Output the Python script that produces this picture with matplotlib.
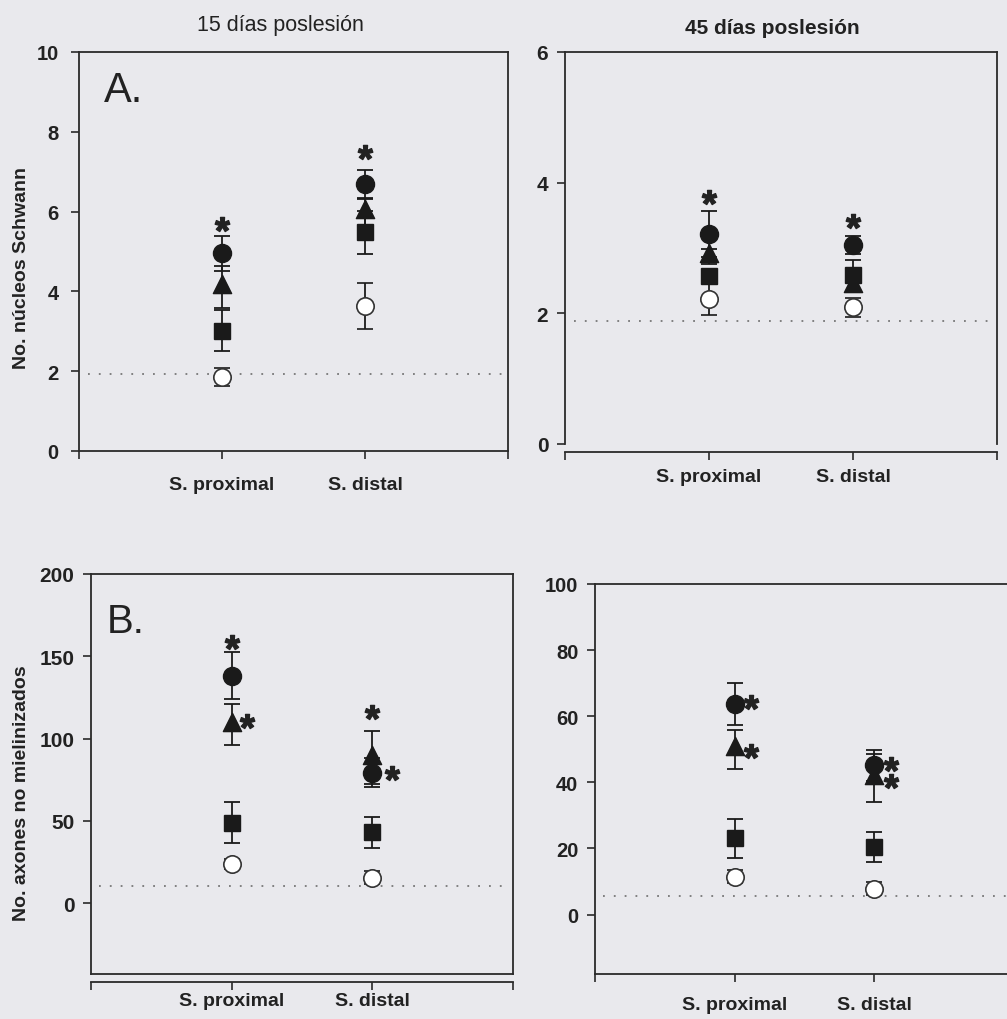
import matplotlib
matplotlib.use("Agg")
import matplotlib.pyplot as plt
from matplotlib.path import Path
import numpy as np

plt.rcParams['font.family'] = ['Liberation Sans', 'DejaVu Sans']
plt.rcParams['mathtext.fontset'] = 'custom'
plt.rcParams['mathtext.bf'] = 'Liberation Sans:bold'
plt.rcParams['mathtext.rm'] = 'Liberation Sans'

# ---------------- data ----------------
categories = ['S. proximal', 'S. distal']
cat_pos = [1, 2]

# Panel A, 15 days
a15_open = [1.86, 3.63];   a15_open_err = [0.23, 0.57]
a15_square = [3.02, 5.48]; a15_square_err = [0.52, 0.54]
a15_tri = [4.11, 5.98];    a15_tri_err = [0.53, 0.33]
a15_circle = [4.95, 6.69]; a15_circle_err = [0.44, 0.36]
a15_ref = 1.93
a15_star_x = [1.0, 2.0]; a15_star_y = [5.69, 7.49]

# Panel A, 45 days
a45_open = [2.22, 2.09];   a45_open_err = [0.24, 0.14]
a45_square = [2.57, 2.58]; a45_square_err = [0.10, 0.24]
a45_tri = [2.87, 2.42];    a45_tri_err = [0.12, 0.10]
a45_circle = [3.21, 3.05]; a45_circle_err = [0.35, 0.14]
a45_ref = 1.89
a45_star_x = [1.0, 2.0]; a45_star_y = [3.78, 3.42]

# Panel B, 15 days
b15_open = [23.7, 15.6];   b15_open_err = [3.0, 4.0]
b15_square = [49.0, 43.0]; b15_square_err = [12.7, 9.6]
b15_tri = [108.5, 88.5];   b15_tri_err = [12.5, 16.2]
b15_circle = [138.2, 79.4]; b15_circle_err = [14.2, 9.1]
b15_ref = 10.5
b15_star_x = [1.0, 1.11, 2.0, 2.14]; b15_star_y = [158.5, 110.8, 115.9, 79.4]

# Panel B, 45 days
b45_open = [11.4, 7.8];    b45_open_err = [2.0, 2.0]
b45_square = [23.0, 20.4]; b45_square_err = [5.8, 4.5]
b45_tri = [50.0, 41.3];    b45_tri_err = [5.9, 7.3]
b45_circle = [63.7, 45.1]; b45_circle_err = [6.3, 4.8]
b45_ref = 5.5
b45_star_x = [1.12, 1.12, 2.12, 2.12]; b45_star_y = [64.2, 49.6, 45.6, 40.3]

titles = ['15 días poslesión', '45 días poslesión']
ylabel_a = 'No. núcleos Schwann'
ylabel_b = 'No. axones no mielinizados'

# ---------------- style ----------------
BG = '#E9E9ED'
INK = '#1a1a1a'
W, H = 1007, 1020
fig = plt.figure(figsize=(W / 100, H / 100), dpi=100, facecolor=BG)

tri_marker = Path([(0, 1), (-0.75, -0.5), (0.75, -0.5), (0, 1)],
                  [Path.MOVETO, Path.LINETO, Path.LINETO, Path.CLOSEPOLY])


def add_axes_px(l, t, r, b):
    return fig.add_axes([l / W, 1 - b / H, (r - l) / W, (b - t) / H])


def draw_panel(ax, series, ref, star_x, star_y, ylim, yticks, bottom_offset,
               box_bottom, ypad, xpad, ysize):
    ax.set_facecolor(BG)
    ax.axhline(ref, xmin=0.02, xmax=0.985, color='#777777', lw=1.3,
               ls=(0, (1, 5)), zorder=1)
    ekw = dict(ecolor=INK, elinewidth=1.3, capsize=6, capthick=1.3, ls='none',
               zorder=3)
    vals, errs = series['open']
    ax.errorbar(cat_pos, vals, yerr=errs, marker='o', ms=12.5, mfc='white',
                mec='#333333', mew=1.2, **ekw)
    vals, errs = series['square']
    ax.errorbar(cat_pos, vals, yerr=errs, marker='s', ms=11, mfc=INK, mec=INK,
                **ekw)
    vals, errs = series['tri']
    ax.errorbar(cat_pos, vals, yerr=errs, marker=tri_marker, ms=17.5, mfc=INK,
                mec=INK, **ekw)
    vals, errs = series['circle']
    ax.errorbar(cat_pos, vals, yerr=errs, marker='o', ms=13, mfc=INK, mec=INK,
                **ekw)
    ax.plot(star_x, star_y, ls='none', marker=r'$\mathbf{*}$', ms=10.5,
            color='#222222', zorder=5)

    ax.set_xlim(0, 3)
    ax.set_ylim(*ylim)
    ax.set_yticks(yticks)
    ax.set_xticks([0, 1, 2, 3])
    ax.set_xticklabels([''] + categories + [''])
    for s in ax.spines.values():
        s.set_color('#2a2a2a')
        s.set_linewidth(1.3)
    if bottom_offset:
        ax.spines['bottom'].set_position(('outward', bottom_offset))
    if box_bottom:
        ax.plot([0, 1], [0, 0], transform=ax.transAxes, color='#2a2a2a',
                lw=1.3, clip_on=False, zorder=6)
    ax.tick_params(axis='y', direction='out', length=6, width=1.2,
                   labelsize=ysize, pad=ypad, colors='#2a2a2a', labelcolor='#222222')
    ax.tick_params(axis='x', direction='out', length=6, width=1.2,
                   labelsize=14, pad=xpad, colors='#2a2a2a', labelcolor='#222222')
    for lab in ax.get_xticklabels() + ax.get_yticklabels():
        lab.set_fontweight('bold')


axA15 = add_axes_px(79, 53, 508, 452)
draw_panel(axA15,
           {'open': (a15_open, a15_open_err), 'square': (a15_square, a15_square_err),
            'tri': (a15_tri, a15_tri_err), 'circle': (a15_circle, a15_circle_err)},
           a15_ref, a15_star_x, a15_star_y, (0, 10), [0, 2, 4, 6, 8, 10],
           0, False, 8.5, 12, 14.5)

axA45 = add_axes_px(565, 53, 997, 445)
draw_panel(axA45,
           {'open': (a45_open, a45_open_err), 'square': (a45_square, a45_square_err),
            'tri': (a45_tri, a45_tri_err), 'circle': (a45_circle, a45_circle_err)},
           a45_ref, a45_star_x, a45_star_y, (0, 6), [0, 2, 4, 6],
           6, False, 6, 5, 15)

axB15 = add_axes_px(91, 575, 513, 975)
draw_panel(axB15,
           {'open': (b15_open, b15_open_err), 'square': (b15_square, b15_square_err),
            'tri': (b15_tri, b15_tri_err), 'circle': (b15_circle, b15_circle_err)},
           b15_ref, b15_star_x, b15_star_y, (-43, 200), [0, 50, 100, 150, 200],
           6, True, 6, 1, 15)

axB45 = add_axes_px(595, 585, 1014, 975)
draw_panel(axB45,
           {'open': (b45_open, b45_open_err), 'square': (b45_square, b45_square_err),
            'tri': (b45_tri, b45_tri_err), 'circle': (b45_circle, b45_circle_err)},
           b45_ref, b45_star_x, b45_star_y, (-18, 100), [0, 20, 40, 60, 80, 100],
           0, False, 6, 10, 14.5)

# titles and labels
fig.text(280 / W, 1 - 25 / H, titles[0], ha='center', va='center', fontsize=15.5,
         color='#222222')
fig.text(772 / W, 1 - 29 / H, titles[1], ha='center', va='center', fontsize=15,
         fontweight='bold', color='#222222')
fig.text(22 / W, 1 - 268 / H, ylabel_a, rotation=90, ha='center', va='center',
         fontsize=14, fontweight='bold', color='#222222')
fig.text(22 / W, 1 - 793 / H, ylabel_b, rotation=90, ha='center', va='center',
         fontsize=14, fontweight='bold', color='#222222')
fig.text(104 / W, 1 - 102 / H, 'A.', ha='left', va='baseline', fontsize=30,
         color='#222222')
fig.text(107 / W, 1 - 633 / H, 'B.', ha='left', va='baseline', fontsize=29,
         color='#222222')

fig.savefig('out.png', dpi=100, facecolor=BG)
